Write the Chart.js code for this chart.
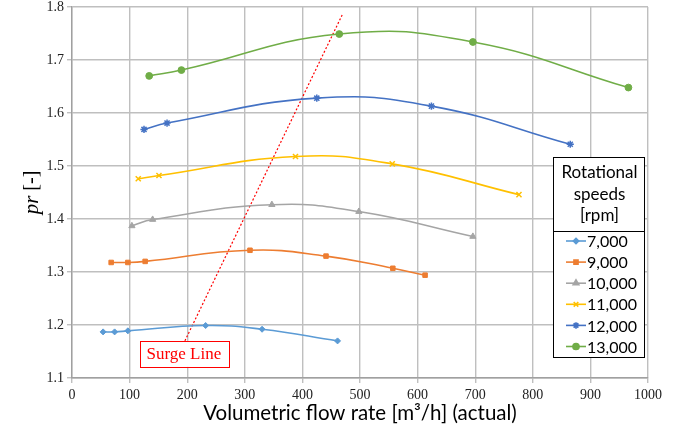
<!DOCTYPE html>
<html>
<head>
<meta charset="utf-8">
<title>Compressor map</title>
<script src="https://cdn.jsdelivr.net/npm/chart.js@4/dist/chart.umd.min.js"></script>
<style>
  html, body { margin: 0; padding: 0; background: #fff; }
  #wrap { width: 680px; height: 433px; position: relative; }
</style>
</head>
<body>
<div id="wrap"><canvas id="map"></canvas></div>
<script>
// --- speed lines: flow [m3/h] vs pressure ratio ---
const speedLabels = ["7,000", "9,000", "10,000", "11,000", "12,000", "13,000"];

const flow7000 = [54, 74, 97, 232, 330, 461];
const pr7000   = [1.187, 1.187, 1.189, 1.199, 1.192, 1.170];

const flow9000 = [68, 97, 127, 309, 441, 557, 613];
const pr9000   = [1.318, 1.318, 1.320, 1.341, 1.330, 1.307, 1.294];

const flow10000 = [104, 140, 347, 498, 696];
const pr10000   = [1.387, 1.399, 1.427, 1.414, 1.367];

const flow11000 = [115, 151, 388, 556, 776];
const pr11000   = [1.476, 1.482, 1.518, 1.504, 1.446];

const flow12000 = [125, 165, 425, 624, 865];
const pr12000   = [1.569, 1.581, 1.628, 1.613, 1.541];

const flow13000 = [134, 190, 464, 696, 966];
const pr13000   = [1.670, 1.681, 1.749, 1.734, 1.648];

// surge line end points
const surgeFlow = [196, 469];
const surgePr   = [1.170, 1.785];

const xTicks = [0, 1000, 100];     // min, max, step
const yTicks = [1.1, 1.8, 0.1];

const colors  = ["#5B9BD5", "#ED7D31", "#A5A5A5", "#FFC000", "#4472C4", "#70AD47"];
const markers = ["rectRot", "rect", "triangle", "crossRot", "star", "circle"];
const radii   = [3, 3.2, 3.6, 3.6, 3.6, 3.4];

const flows = [flow7000, flow9000, flow10000, flow11000, flow12000, flow13000];
const prs   = [pr7000, pr9000, pr10000, pr11000, pr12000, pr13000];

const toXY = (xs, ys) => xs.map((x, i) => ({ x: x, y: ys[i] }));
const thin = m => m === "crossRot" || m === "star";

const datasets = speedLabels.map((lab, i) => ({
    label: lab,
    data: toXY(flows[i], prs[i]),
    borderColor: colors[i],
    backgroundColor: colors[i],
    borderWidth: 1.6,
    pointStyle: markers[i],
    pointRadius: radii[i],
    pointBorderWidth: thin(markers[i]) ? 1.5 : 1,
    tension: 0.45
}));

datasets.push({
    label: "surge",
    data: toXY(surgeFlow, surgePr),
    borderColor: "#FF0000",
    borderWidth: 1.2,
    borderDash: [2, 2],
    pointRadius: 0,
    tension: 0
});

// y title with italic "pr"
const yTitle = {
    id: "yTitle",
    afterDraw(chart) {
        const ctx = chart.ctx, a = chart.chartArea;
        ctx.save();
        ctx.translate(32, (a.top + a.bottom) / 2);
        ctx.rotate(-Math.PI / 2);
        ctx.fillStyle = "#000";
        ctx.textBaseline = "middle";
        const f1 = "italic 21px 'Liberation Serif'", f2 = "20px 'Liberation Serif'";
        ctx.font = f1; const w1 = ctx.measureText("pr").width;
        ctx.font = f2; const w2 = ctx.measureText(" [-]").width;
        let x = -(w1 + w2) / 2;
        ctx.font = f1; ctx.fillText("pr", x, 0);
        ctx.font = f2; ctx.fillText(" [-]", x + w1, 0);
        ctx.restore();
    }
};

// boxed label at the foot of the surge line
const surgeLabel = {
    id: "surgeLabel",
    afterDatasetsDraw(chart) {
        const ctx = chart.ctx;
        const sx = chart.scales.x, sy = chart.scales.y;
        const cx = sx.getPixelForValue(surgeFlow[0]) - 1;
        const top = sy.getPixelForValue(surgePr[0]);
        ctx.save();
        ctx.font = "17px 'Liberation Serif'";
        const w = ctx.measureText("Surge Line").width + 14, h = 26;
        ctx.fillStyle = "#fff";
        ctx.fillRect(cx - w / 2, top, w, h);
        ctx.strokeStyle = "#FF0000";
        ctx.lineWidth = 1;
        ctx.strokeRect(Math.round(cx - w / 2) + 0.5, Math.round(top) + 0.5, Math.round(w), h);
        ctx.fillStyle = "#FF0000";
        ctx.textAlign = "center";
        ctx.textBaseline = "middle";
        ctx.fillText("Surge Line", cx, top + h / 2 + 1);
        ctx.restore();
    }
};

// legend box with a title panel above it
const speedLegend = {
    id: "speedLegend",
    afterDraw(chart) {
        const ctx = chart.ctx;
        const left = 553, right = 644, top = 157, mid = 231, bottom = 357;
        ctx.save();
        ctx.fillStyle = "#fff";
        ctx.fillRect(left, top, right - left, bottom - top);
        ctx.strokeStyle = "#000";
        ctx.lineWidth = 1;
        ctx.strokeRect(left + 0.5, top + 0.5, right - left, mid - top);
        ctx.strokeRect(left + 0.5, mid + 0.5, right - left, bottom - mid);
        ctx.fillStyle = "#000";
        ctx.font = "17px Lato";
        ctx.textAlign = "center";
        ctx.textBaseline = "middle";
        ["Rotational", "speeds", "[rpm]"].forEach((t, i) => ctx.fillText(t, (left + right) / 2 + 1, 173 + i * 21.5));
        ctx.font = "16px Lato";
        ctx.textAlign = "left";
        speedLabels.forEach((lab, i) => {
            const y = 241 + i * 21.1;
            ctx.strokeStyle = colors[i];
            ctx.lineWidth = 1.6;
            ctx.beginPath(); ctx.moveTo(566, y); ctx.lineTo(586, y); ctx.stroke();
            ctx.fillStyle = colors[i];
            Chart.helpers.drawPoint(ctx, {
                pointStyle: markers[i], radius: radii[i] * 0.9, rotation: 0,
                borderWidth: thin(markers[i]) ? 1.3 : 1
            }, 576, y);
            ctx.fillStyle = "#000";
            ctx.fillText(lab, 587, y + 1);
        });
        ctx.restore();
    }
};

new Chart(document.getElementById("map"), {
    type: "line",
    data: { datasets: datasets },
    plugins: [yTitle, surgeLabel, speedLegend],
    options: {
        responsive: true,
        maintainAspectRatio: false,
        animation: false,
        layout: { padding: { left: 0, right: 32, top: 0, bottom: 0 } },
        plugins: { legend: { display: false }, tooltip: { enabled: false } },
        scales: {
            x: {
                type: "linear",
                min: xTicks[0], max: xTicks[1],
                afterFit: s => { s.height = 55; },
                ticks: {
                    stepSize: xTicks[2], color: "#222", padding: 4,
                    font: { family: "'Liberation Serif'", size: 14 },
                    callback: v => String(v)
                },
                grid: { color: "#BFBFBF", lineWidth: 1.4, tickLength: 5 },
                border: { color: "#A0A0A0", width: 1.4 },
                title: {
                    display: true, text: "Volumetric flow rate [m³/h] (actual)",
                    color: "#000", font: { family: "Lato", size: 20.5 }, padding: { top: 0, bottom: 7 }
                }
            },
            y: {
                type: "linear",
                min: yTicks[0], max: yTicks[1],
                afterFit: s => { s.width = 72; s.paddingTop = 7; s.paddingBottom = 0; },
                ticks: {
                    stepSize: yTicks[2], color: "#222", padding: 3,
                    font: { family: "'Liberation Serif'", size: 14 },
                    callback: v => v.toFixed(1)
                },
                grid: { color: "#BFBFBF", lineWidth: 1.4, tickLength: 5 },
                border: { color: "#A0A0A0", width: 1.4 }
            }
        }
    }
});
</script>
</body>
</html>
